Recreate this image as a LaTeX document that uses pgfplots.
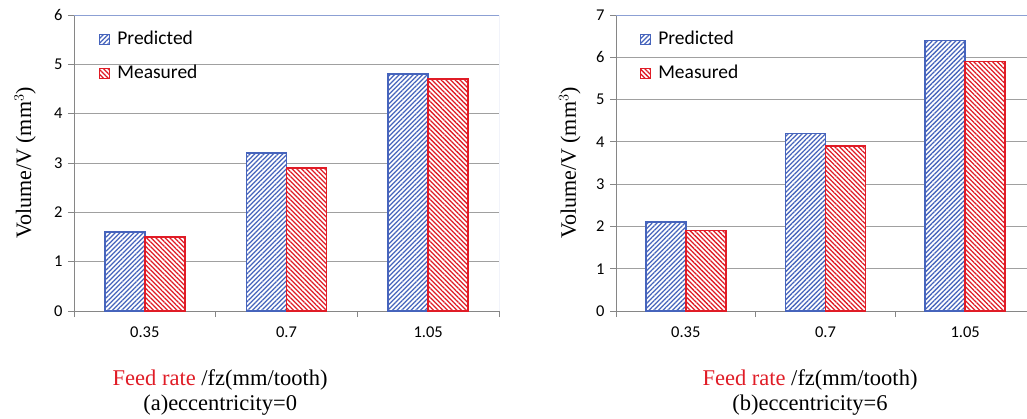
\documentclass[border=0pt]{standalone}
\usepackage{pgfplots}
\pgfplotsset{compat=1.18}
\usetikzlibrary{patterns.meta}
\usepackage{fontspec}
\setmainfont{Liberation Serif}
\newfontfamily\carlito{Carlito}
\definecolor{pblue}{RGB}{70,100,188}
\definecolor{mred}{RGB}{224,28,38}
\definecolor{gridgrey}{RGB}{160,160,160}
\definecolor{axgrey}{RGB}{134,134,134}
\definecolor{frameblue}{RGB}{140,160,212}

\pgfplotsset{
  mychart/.style={
    scale only axis,
    width=419pt, height=296pt,
    anchor=south west,
    ybar, bar width=40pt,
    xmin=-0.5, xmax=2.5, ymin=0,
    xtick={0,1,2}, xticklabels={0.35,0.7,1.05},
    minor xtick={-0.5,0.5,1.5,2.5},
    major x tick style={draw=none},
    minor x tick style={axgrey, line width=0.8pt},
    minor tick length=6pt,
    y tick style={axgrey, line width=0.8pt},
    major tick length=6pt,
    tick align=outside,
    axis x line*=bottom, axis y line*=left,
    axis line style={axgrey, line width=0.8pt},
    ymajorgrids, grid style={gridgrey, line width=0.8pt},
    /pgf/number format/assume math mode=true,
    ticklabel style={font=\carlito\fontsize{16.5}{16.5}\selectfont},
    xticklabel style={yshift=-6pt},
    yticklabel style={xshift=-2pt},
    ylabel={Volume/V (mm$^{3}$)},
    ylabel style={font=\fontsize{22}{24}\selectfont, anchor=center},
    xlabel style={font=\fontsize{22.5}{25}\selectfont, align=center, anchor=north},
    legend style={draw=none, fill=none, inner sep=0pt, anchor=north west,
      font=\carlito\fontsize{19.5}{20}\selectfont, row sep=16pt,
      nodes={inner sep=0pt, text height=14pt, text depth=4pt}},
    legend cell align=left,
    legend image code/.code={\draw[##1, line width=0.9pt] (0pt,-5pt) rectangle (10pt,5pt); \path (17pt,0pt);},
    enlarge x limits=false,
  },
  pred/.style={draw=pblue, line width=1.5pt, fill=white, postaction={pattern={Lines[angle=45,distance=3.3pt,line width=1.25pt]}, pattern color=pblue}, bar shift=-20pt},
  meas/.style={draw=mred, line width=1.5pt, fill=white, postaction={pattern={Lines[angle=-45,distance=3.3pt,line width=1.25pt]}, pattern color=mred}, bar shift=20pt},
}

\begin{document}
\begin{tikzpicture}[x=1pt,y=1pt]
\useasboundingbox (0,0) rectangle (1027,418);
% (a) eccentricity = 0
\begin{axis}[mychart, at={(74pt,107pt)}, width=425pt,
  ymax=6, ytick={0,1,2,3,4,5,6},
  ylabel style={at={(axis description cs:-0.115,0.5)}},
  xlabel={\textcolor{mred}{Feed rate} /fz(mm/tooth)\\(a)eccentricity=0},
  xlabel style={at={(axis description cs:0.344,0)}, yshift=-55pt},
  legend style={at={(axis description cs:0.0588,0.95)}},
]
\addplot[pred] coordinates {(0,1.6) (1,3.2) (2,4.8)};
\addplot[meas] coordinates {(0,1.5) (1,2.9) (2,4.7)};
\legend{Predicted,Measured}
\draw[frameblue, line width=0.9pt] (rel axis cs:0,1) -- (rel axis cs:1,1) -- (rel axis cs:1,0);
\end{axis}
% (b) eccentricity = 6
\begin{axis}[mychart, at={(616pt,107pt)}, width=419pt,
  ymax=7, ytick={0,1,2,3,4,5,6,7},
  ylabel style={at={(axis description cs:-0.11,0.5)}},
  xlabel={\textcolor{mred}{Feed rate} /fz(mm/tooth)\\(b)eccentricity=6},
  xlabel style={at={(axis description cs:0.463,0)}, yshift=-55pt},
  legend style={at={(axis description cs:0.057,0.95)}},
]
\addplot[pred] coordinates {(0,2.1) (1,4.2) (2,6.4)};
\addplot[meas] coordinates {(0,1.9) (1,3.9) (2,5.9)};
\legend{Predicted,Measured}
\draw[frameblue, line width=0.9pt] (rel axis cs:0,1) -- (rel axis cs:1,1) -- (rel axis cs:1,0);
\end{axis}
\end{tikzpicture}
\end{document}
